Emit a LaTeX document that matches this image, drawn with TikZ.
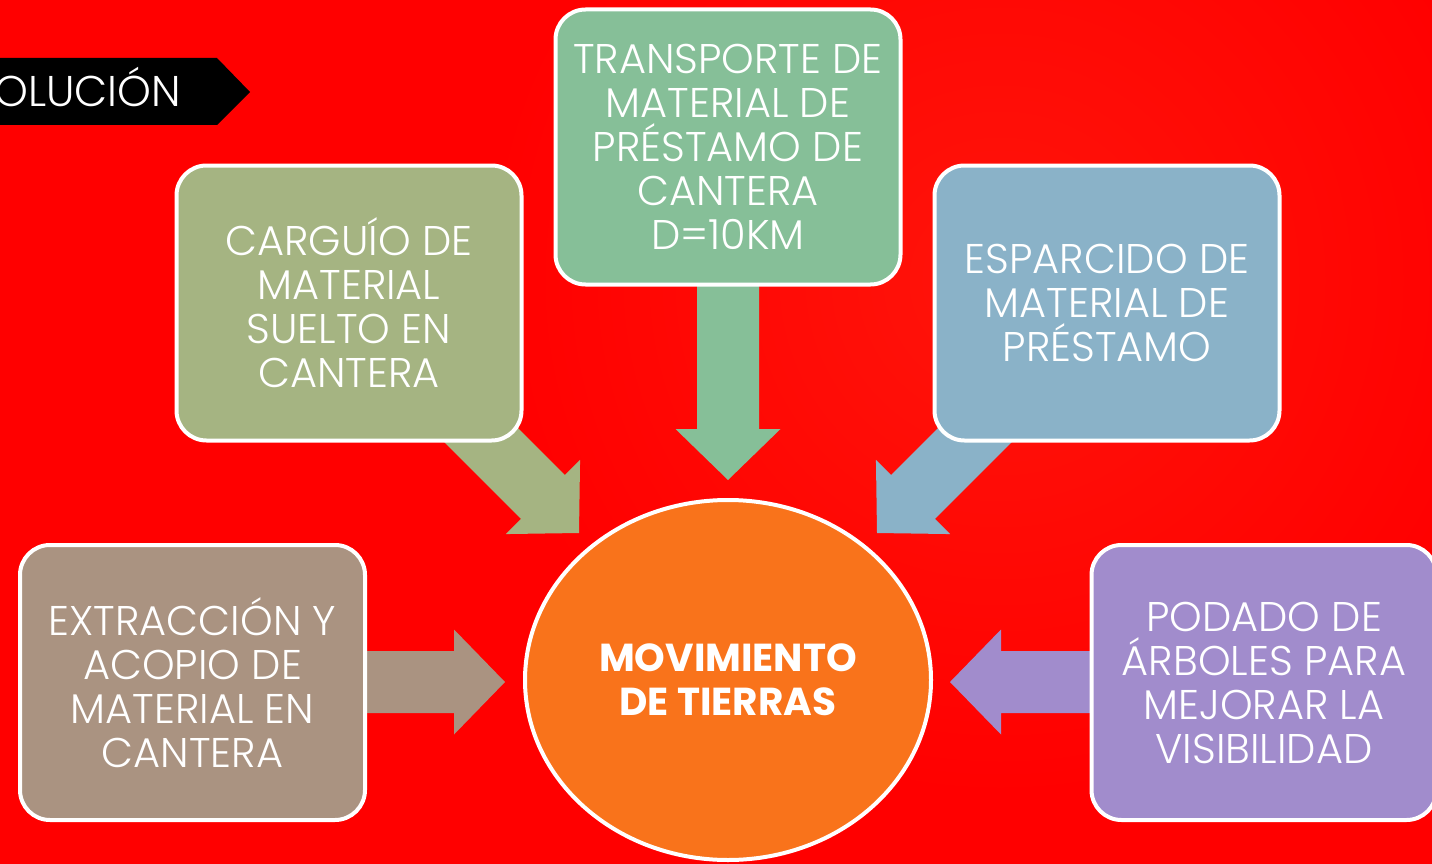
\documentclass[tikz,border=0pt]{standalone}
\usepackage{fontspec}
\setmainfont{Poppins}[UprightFont={* Light}, BoldFont={* Bold}]
\usetikzlibrary{shapes.geometric,calc}
\definecolor{bgred}{RGB}{255,0,0}
\definecolor{glow}{RGB}{255,20,10}
\definecolor{ctan}{RGB}{170,147,129}
\definecolor{colive}{RGB}{165,180,130}
\definecolor{cgreen}{RGB}{134,191,152}
\definecolor{cblue}{RGB}{138,178,200}
\definecolor{cpurple}{RGB}{161,140,204}
\definecolor{corange}{RGB}{249,115,27}
\tikzset{
  stepbox/.style={draw=white, line width=4pt, rounded corners=30pt,
    minimum width=345pt, minimum height=275pt, inner sep=0pt,
    text=white, align=center, font=\fontsize{41.5}{44}\selectfont},
  hub/.style={ellipse, draw=white, line width=4pt, fill=corange,
    minimum width=406pt, minimum height=360pt, inner sep=0pt,
    text=white, align=center, font=\bfseries\fontsize{39}{44}\selectfont},
}
% #1 colour, #2 tip coordinate, #3 angle, #4 length
\newcommand{\blockarrow}[4]{%
  \fill[#1, shift={(#2)}, rotate=#3]
    (0,0) -- (-51,52.5) -- (-51,31) -- (-#4,31) -- (-#4,-31)
    -- (-51,-31) -- (-51,-52.5) -- cycle;}
\begin{document}
\begin{tikzpicture}[x=1pt,y=-1pt]
\useasboundingbox (0,0) rectangle (1432,864);
\clip (0,0) rectangle (1432,864);
\fill[bgred] (0,0) rectangle (1432,864);
\shade[inner color=glow, outer color=bgred] (1000,280) circle (520);
% banner
\fill[black] (0,58) -- (217,58) -- (250,92) -- (217,125) -- (0,125) -- cycle;
\node[anchor=base west, inner sep=0pt, text=white, font=\fontsize{43}{44}\selectfont] (banner) at (-6,107) {OLUCIÓN};
% hub
\node[hub] (hub) at (728,680) {MOVIMIENTO\\DE TIERRAS};
% arrow tips
\coordinate (tA) at (505,682);
\coordinate (tB) at (579,533);
\coordinate (tC) at (728,480);
\coordinate (tD) at (877,533);
\coordinate (tE) at (950,682);
\blockarrow{ctan}{tA}{0}{160}
\blockarrow{colive}{tB}{-45}{175}
\blockarrow{cgreen}{tC}{-90}{215}
\blockarrow{cblue}{tD}{-135}{175}
\blockarrow{cpurple}{tE}{180}{165}
% boxes
\node[stepbox, fill=ctan] (extr) at (192.5,682.5) {EXTRACCIÓN Y\\ACOPIO DE\\MATERIAL EN\\CANTERA};
\node[stepbox, fill=colive] (carg) at (349,303) {CARGUÍO DE\\MATERIAL\\SUELTO EN\\CANTERA};
\node[stepbox, fill=cgreen] (trans) at (728,147) {TRANSPORTE DE\\MATERIAL DE\\PRÉSTAMO DE\\CANTERA\\D=10KM};
\node[stepbox, fill=cblue] (espa) at (1107,303) {ESPARCIDO DE\\MATERIAL DE\\PRÉSTAMO};
\node[stepbox, fill=cpurple] (poda) at (1264,682.5) {PODADO DE\\ÁRBOLES PARA\\MEJORAR LA\\VISIBILIDAD};
\end{tikzpicture}
\end{document}
